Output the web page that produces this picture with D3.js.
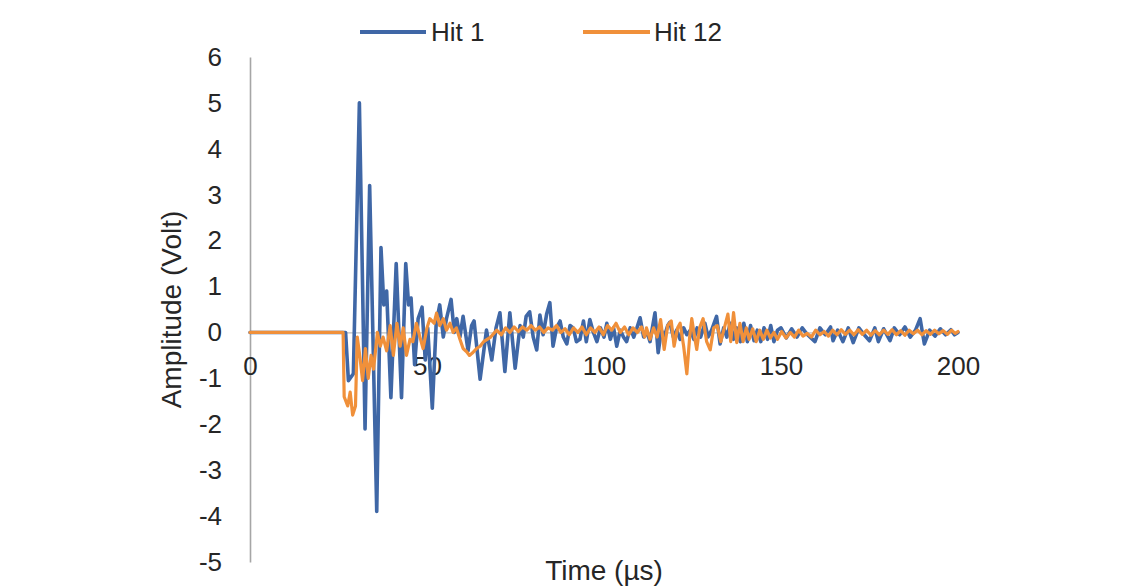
<!DOCTYPE html>
<html>
<head>
<meta charset="utf-8">
<script src="https://cdn.jsdelivr.net/npm/d3@7"></script>
<style>
  html, body { margin: 0; padding: 0; background: #ffffff; }
  svg { display: block; }
  text { font-family: "Liberation Sans", Arial, sans-serif; fill: #262626; }
</style>
</head>
<body>
<svg id="chart" width="1143" height="587"></svg>
<script>
// ---- data ----
const seriesNames = ["Hit 1", "Hit 12"];
const xTicks = [0, 50, 100, 150, 200];
const yTicks = [-5, -4, -3, -2, -1, 0, 1, 2, 3, 4, 5, 6];

const timeHit1 = [0, 27.0, 27.8, 29.2, 30.9, 32.5, 33.8, 35.8, 37.0, 37.8, 38.6, 39.8, 41.3, 42.8, 44.0, 44.8, 45.5, 46.5, 47.5, 48.6, 49.5, 50.2, 51.5, 52.6, 53.6, 54.6, 55.5, 56.8, 57.7, 58.4, 59.3, 60.2, 61.6, 62.6, 63.3, 65.0, 66.8, 68.3, 69.5, 70.6, 72.0, 73.4, 74.9, 76.3, 77.2, 78.0, 79.0, 80.0, 81.0, 81.9, 82.8, 83.8, 84.7, 85.6, 86.6, 87.6, 88.5, 89.5, 90.4, 91.3, 92.2, 93.2, 94.2, 95.0, 96.0, 97.0, 98.0, 99.0, 100.0, 100.8, 101.8, 102.7, 103.6, 104.6, 105.5, 106.4, 107.4, 108.4, 109.3, 110.2, 111.2, 112.2, 113.0, 114.4, 115.3, 116.2, 117.0, 118.0, 118.6, 119.6, 120.5, 121.5, 122.5, 123.4, 124.4, 125.4, 126.3, 127.3, 128.5, 129.4, 130.4, 131.8, 132.8, 133.8, 134.7, 135.7, 136.6, 137.5, 138.5, 139.5, 140.5, 141.4, 142.4, 143.3, 144.3, 145.2, 146.2, 147.1, 148.0, 149.0, 150.0, 151.5, 153.0, 154.5, 156.0, 157.5, 159.6, 161.0, 162.5, 164.0, 164.7, 166.0, 167.5, 169.0, 170.4, 172.0, 173.5, 175.0, 176.5, 177.5, 179.0, 180.8, 182.0, 183.5, 185.0, 186.5, 188.0, 189.3, 190.5, 192.0, 193.5, 195.0, 196.5, 198.0, 199.0, 200.0];
const ampHit1 = [0, 0, -1.05, -0.9, 5.0, -2.1, 3.2, -3.9, 1.85, 0.6, 0.9, -1.42, 1.5, -1.42, 1.5, 0.6, 0.75, -0.7, 0.3, 0.55, -0.6, 0.1, -1.65, 0.2, 0.6, -0.1, 0.3, 0.72, 0.0, 0.3, -0.1, 0.35, -0.4, 0.15, 0.25, -1.02, 0.05, -0.6, 0.1, 0.43, -0.85, 0.43, -0.78, 0.15, -0.1, 0.35, 0.45, -0.1, -0.38, 0.38, -0.05, 0.4, 0.65, -0.3, 0.1, 0.25, -0.1, -0.25, 0.15, 0.1, -0.2, -0.15, 0.25, -0.2, 0.28, 0.0, -0.2, 0.1, -0.1, 0.2, -0.15, 0.1, -0.3, 0.05, -0.1, -0.2, 0.1, -0.1, 0.1, 0.32, -0.1, 0.0, -0.2, 0.43, -0.44, 0.05, -0.1, 0.15, 0.22, -0.1, 0.05, -0.15, 0.1, -0.05, 0.05, -0.15, 0.1, -0.1, 0.2, -0.1, 0.05, 0.35, -0.25, 0.1, -0.1, 0.2, -0.15, 0.1, -0.2, 0.2, -0.2, 0.15, -0.18, 0.05, -0.2, 0.1, -0.15, 0.15, -0.2, 0.05, 0.1, -0.12, 0.08, -0.1, 0.1, -0.05, -0.2, 0.1, -0.05, 0.12, -0.18, 0.05, -0.2, 0.1, -0.22, 0.1, -0.05, -0.18, 0.1, -0.2, 0.08, -0.18, 0.1, -0.05, 0.12, -0.1, 0.05, 0.3, -0.25, 0.05, -0.08, 0.08, -0.05, 0.06, -0.05, 0.0];

const timeHit12 = [0, 26.3, 26.6, 27.6, 28.3, 29.0, 29.8, 30.3, 31.0, 31.8, 32.6, 33.4, 34.2, 34.9, 36.0, 36.8, 37.6, 38.6, 39.6, 40.5, 41.5, 42.4, 43.3, 44.2, 45.2, 46.0, 47.0, 48.0, 48.9, 50.0, 50.8, 52.0, 52.7, 53.6, 54.6, 55.5, 56.5, 57.4, 58.3, 59.3, 60.2, 61.2, 62.0, 62.8, 64.0, 65.0, 66.0, 67.0, 68.0, 69.7, 71.0, 72.2, 73.4, 74.6, 75.8, 77.0, 78.2, 79.4, 80.6, 81.8, 83.0, 84.2, 85.4, 86.6, 87.8, 89.0, 90.2, 91.4, 92.6, 93.8, 95.0, 96.2, 97.4, 98.6, 99.8, 101.0, 102.2, 103.4, 104.6, 105.8, 107.0, 108.2, 109.4, 110.6, 111.5, 112.0, 113.0, 114.0, 115.0, 116.0, 117.0, 118.0, 119.0, 119.8, 120.8, 121.5, 122.5, 123.4, 124.2, 124.8, 125.6, 126.2, 127.0, 128.0, 129.0, 130.0, 131.0, 132.0, 133.0, 134.0, 135.0, 135.8, 136.6, 137.5, 138.4, 139.3, 140.2, 141.0, 142.0, 143.0, 144.0, 145.0, 146.0, 147.0, 148.0, 149.0, 150.2, 151.4, 152.6, 153.8, 155.0, 156.2, 157.4, 158.6, 159.8, 161.0, 162.2, 163.4, 164.6, 165.8, 167.0, 168.2, 169.4, 170.6, 171.8, 173.0, 174.2, 175.4, 176.6, 177.8, 179.0, 180.2, 181.4, 182.6, 183.8, 185.0, 186.2, 187.4, 188.6, 189.8, 191.0, 192.2, 193.4, 194.6, 195.8, 197.0, 198.2, 199.2, 200.0];
const ampHit12 = [0, 0, -1.4, -1.6, -1.3, -1.8, -1.6, -0.1, -0.5, -1.05, -0.35, -1.0, -0.5, -0.8, 0.0, -0.3, -0.1, -0.4, 0.15, -0.5, 0.2, -0.3, 0.1, -0.5, -0.15, -0.2, 0.2, -0.1, -0.35, 0.1, 0.3, 0.2, 0.42, 0.15, 0.3, 0.05, 0.2, 0.0, 0.1, -0.15, -0.35, -0.42, -0.5, -0.45, -0.35, -0.3, -0.2, -0.15, -0.1, 0.05, -0.05, 0.1, 0.0, 0.12, 0.02, 0.12, 0.05, 0.15, 0.05, 0.12, 0.0, 0.1, 0.05, 0.15, 0.0, 0.08, -0.05, 0.1, 0.0, 0.12, -0.05, 0.1, 0.0, 0.12, -0.05, 0.15, 0.05, 0.2, 0.0, 0.12, -0.05, 0.1, 0.0, 0.12, -0.1, 0.1, -0.15, 0.1, -0.1, 0.28, -0.37, 0.15, 0.25, -0.3, 0.1, 0.2, -0.3, -0.9, -0.1, 0.3, -0.1, -0.37, 0.1, 0.3, -0.2, -0.38, 0.1, 0.15, -0.2, 0.1, 0.4, -0.2, 0.43, -0.22, 0.2, -0.2, 0.1, -0.15, 0.08, -0.2, 0.05, -0.15, 0.05, -0.12, 0.0, -0.15, 0.02, -0.12, 0.0, -0.1, 0.05, -0.08, -0.02, -0.1, 0.05, -0.05, 0.02, -0.08, 0.05, -0.05, 0.06, -0.04, 0.05, -0.05, 0.06, -0.04, 0.05, -0.06, 0.04, -0.05, 0.05, -0.04, 0.06, -0.05, 0.04, -0.06, 0.05, -0.03, 0.05, -0.05, 0.04, -0.04, 0.05, -0.03, 0.04, -0.04, 0.05, -0.02, 0.02];

const seriesColors = ["#3F67A6", "#F0903A"];

// ---- layout ----
const svg = d3.select("#chart");
const x = d3.scaleLinear().domain([0, 200]).range([250, 958]);
const y = d3.scaleLinear().domain([-5, 6]).range([562, 57]);
const plainFormat = d => String(d);   // hyphen-minus like the reference

// y axis (left)
const yAxis = svg.append("g")
  .attr("transform", `translate(${x(0)},0)`)
  .call(d3.axisLeft(y).tickValues(yTicks).tickSize(0).tickSizeOuter(0).tickPadding(28)
        .tickFormat(plainFormat));
yAxis.select(".domain").attr("stroke", "#A6A6A6").attr("stroke-width", 1.6);
yAxis.selectAll("text").style("font-size", "26px").attr("fill", "#262626")
  .style("font-family", '"Liberation Sans", Arial, sans-serif');

// x axis (crosses at zero)
const xAxis = svg.append("g")
  .attr("transform", `translate(0,${y(0)})`)
  .call(d3.axisBottom(x).tickValues(xTicks).tickSize(0).tickSizeOuter(0).tickPadding(24)
        .tickFormat(plainFormat));
xAxis.select(".domain").attr("stroke", "#BFBFBF").attr("stroke-width", 1.2);
xAxis.selectAll("text").style("font-size", "26px").attr("fill", "#262626")
  .style("font-family", '"Liberation Sans", Arial, sans-serif');

// series lines
const line = d3.line().x(d => x(d[0])).y(d => y(d[1]));
const seriesData = [
  d3.zip(timeHit1, ampHit1),
  d3.zip(timeHit12, ampHit12)
];
seriesData.forEach((data, i) => {
  svg.append("path")
    .datum(data)
    .attr("fill", "none")
    .attr("stroke", seriesColors[i])
    .attr("stroke-width", i === 0 ? 3.6 : 3.2)
    .attr("stroke-linejoin", "round")
    .attr("stroke-linecap", "round")
    .attr("d", line);
});

// axis titles
svg.append("text")
  .attr("x", (x(0) + x(200)) / 2)
  .attr("y", 580)
  .attr("text-anchor", "middle")
  .style("font-size", "28px")
  .text("Time (µs)");

svg.append("text")
  .attr("transform", `translate(181,${(y(6) + y(-5)) / 2}) rotate(-90)`)
  .attr("text-anchor", "middle")
  .style("font-size", "28px")
  .text("Amplitude (Volt)");

// legend
const legendItems = [
  { x1: 360, x2: 426, tx: 431 },
  { x1: 583, x2: 650, tx: 654 }
];
legendItems.forEach((it, i) => {
  svg.append("line")
    .attr("x1", it.x1).attr("x2", it.x2)
    .attr("y1", 32).attr("y2", 32)
    .attr("stroke", seriesColors[i])
    .attr("stroke-width", 4);
  svg.append("text")
    .attr("x", it.tx).attr("y", 41)
    .style("font-size", "26px")
    .text(seriesNames[i]);
});
</script>
</body>
</html>
